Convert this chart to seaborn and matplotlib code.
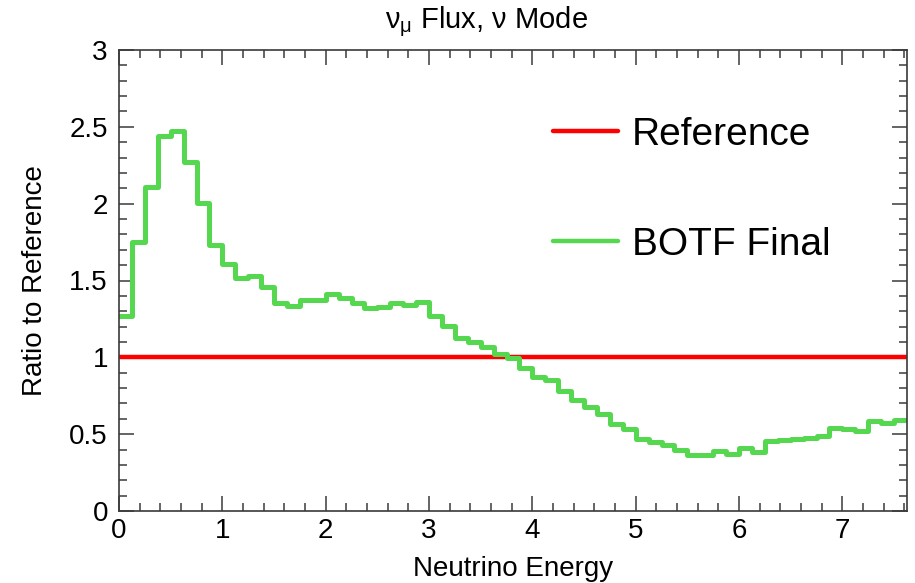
import numpy as np
import pandas as pd
import matplotlib
matplotlib.use("Agg")
import matplotlib.pyplot as plt
from matplotlib.lines import Line2D
from matplotlib.ticker import MultipleLocator, FuncFormatter, FixedLocator
import seaborn as sns

# ---- data ----
bin_low = [0.0, 0.125, 0.25, 0.375, 0.5, 0.625, 0.75, 0.875, 1.0, 1.125,
           1.25, 1.375, 1.5, 1.625, 1.75, 1.875, 2.0, 2.125, 2.25, 2.375,
           2.5, 2.625, 2.75, 2.875, 3.0, 3.125, 3.25, 3.375, 3.5, 3.625,
           3.75, 3.875, 4.0, 4.125, 4.25, 4.375, 4.5, 4.625, 4.75, 4.875,
           5.0, 5.125, 5.25, 5.375, 5.5, 5.625, 5.75, 5.875, 6.0, 6.125,
           6.25, 6.375, 6.5, 6.625, 6.75, 6.875, 7.0, 7.125, 7.25, 7.375,
           7.5]
bin_width = 0.125
botf_final = [1.266, 1.748, 2.108, 2.440, 2.472, 2.268, 2.004, 1.733, 1.609, 1.516,
              1.527, 1.455, 1.353, 1.336, 1.370, 1.370, 1.412, 1.386, 1.353, 1.318,
              1.327, 1.355, 1.338, 1.362, 1.266, 1.206, 1.126, 1.097, 1.067, 1.023,
              0.993, 0.930, 0.872, 0.854, 0.778, 0.722, 0.680, 0.628, 0.566, 0.531,
              0.467, 0.452, 0.427, 0.398, 0.365, 0.365, 0.390, 0.374, 0.407, 0.383,
              0.454, 0.462, 0.466, 0.474, 0.485, 0.539, 0.531, 0.522, 0.584, 0.575,
              0.593]
reference = [1.0] * len(bin_low)
series_names = ["Reference", "BOTF Final"]
x_ticks = [0, 1, 2, 3, 4, 5, 6, 7]
y_ticks = [0, 0.5, 1, 1.5, 2, 2.5, 3]

x_min = bin_low[0]
x_max = bin_low[-1] + bin_width
centers = np.array(bin_low) + bin_width / 2
df = pd.DataFrame({"energy": centers, "ref": reference, "botf": botf_final})

# ---- style ----
sns.set_style("ticks")
plt.rcParams["font.family"] = ["Liberation Sans", "DejaVu Sans"]
plt.rcParams["text.color"] = "black"
plt.rcParams["axes.labelcolor"] = "black"
plt.rcParams["xtick.color"] = "black"
plt.rcParams["ytick.color"] = "black"

RED = "#ff0000"
GREEN = "#55d84f"
AXC = "#3a3a3a"

fig = plt.figure(figsize=(9.15, 5.83), dpi=100)
ax = fig.add_axes([119 / 915, 1 - 511 / 583, 788 / 915, 461 / 583])

sns.histplot(data=df, x="energy", weights="ref", binwidth=bin_width,
             binrange=(x_min, x_max), element="step",
             fill=False, color=RED, linewidth=3.2, ax=ax)
sns.histplot(data=df, x="energy", weights="botf", binwidth=bin_width,
             binrange=(x_min, x_max), element="step",
             fill=False, color=GREEN, linewidth=3.6, ax=ax)

ax.set_xlim(x_min, x_max)
ax.set_ylim(0, 3)

ax.xaxis.set_major_locator(FixedLocator(x_ticks))
ax.xaxis.set_minor_locator(MultipleLocator(0.2))
ax.yaxis.set_major_locator(FixedLocator(y_ticks))
ax.yaxis.set_minor_locator(MultipleLocator(0.1))
ax.yaxis.set_major_formatter(FuncFormatter(lambda v, p: f"{v:g}"))
ax.xaxis.set_major_formatter(FuncFormatter(lambda v, p: f"{v:g}"))

ax.tick_params(which="both", direction="in", top=True, right=True,
               color=AXC, labelcolor="black", width=1.1)
ax.tick_params(which="major", length=11, labelsize=20)
ax.tick_params(which="minor", length=5.5)
ax.tick_params(axis="y", which="major", pad=8)
ax.tick_params(axis="x", which="major", pad=5)
for s in ax.spines.values():
    s.set_color(AXC)
    s.set_linewidth(1.2)

ax.set_xlabel("Neutrino Energy", fontsize=20, color="black")
ax.set_ylabel("Ratio to Reference", fontsize=20, color="black")
ax.xaxis.set_label_coords(0.5, -0.097)
ax.yaxis.set_label_coords(-0.09, 0.5)

fig.text(486 / 915, 1 - 22 / 583, r"$\mathregular{\nu_{\mu}}$ Flux, $\mathregular{\nu}$ Mode",
         ha="center", va="center", fontsize=21, color="black")

handles = [Line2D([], [], color=RED, linewidth=3.2),
           Line2D([], [], color=GREEN, linewidth=3.2)]
leg = ax.legend(handles, series_names, loc="center left", frameon=False,
                bbox_to_anchor=(553 / 915, 1 - 190 / 583), bbox_transform=fig.transFigure,
                fontsize=28, handlelength=1.67, handletextpad=0.36, labelspacing=1.9,
                borderpad=0, borderaxespad=0)
for t in leg.get_texts():
    t.set_color("black")

fig.savefig("out.png", dpi=100)
